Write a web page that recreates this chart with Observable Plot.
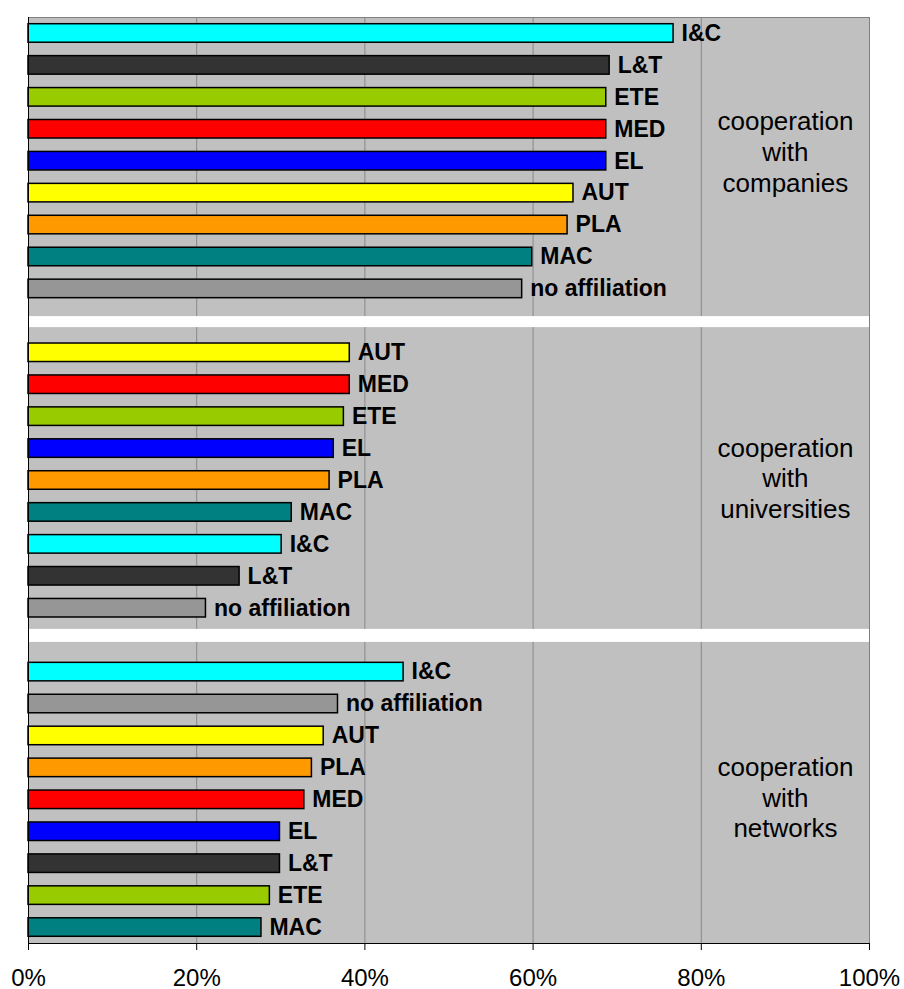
<!DOCTYPE html>
<html>
<head>
<meta charset="utf-8">
<script src="https://cdn.jsdelivr.net/npm/d3@7"></script>
<script src="https://cdn.jsdelivr.net/npm/@observablehq/plot@0.6"></script>
<style>
  html, body { margin: 0; padding: 0; background: #ffffff; }
  #chart { width: 904px; height: 989px; }
</style>
</head>
<body>
<div id="chart"></div>
<script>
// Share of members cooperating with each partner type, by unit (percent)
const panelKeys = ["companies", "universities", "networks"];
const panelTitles = ["cooperation\nwith\ncompanies", "cooperation\nwith\nuniversities", "cooperation\nwith\nnetworks"];

const companiesUnits = ["I&C", "L&T", "ETE", "MED", "EL", "AUT", "PLA", "MAC", "no affiliation"];
const companiesValues = [76.7, 69.1, 68.7, 68.7, 68.7, 64.8, 64.1, 59.9, 58.7];

const universitiesUnits = ["AUT", "MED", "ETE", "EL", "PLA", "MAC", "I&C", "L&T", "no affiliation"];
const universitiesValues = [38.2, 38.2, 37.5, 36.3, 35.8, 31.3, 30.1, 25.1, 21.1];

const networksUnits = ["I&C", "no affiliation", "AUT", "PLA", "MED", "EL", "L&T", "ETE", "MAC"];
const networksValues = [44.6, 36.8, 35.1, 33.7, 32.8, 29.9, 29.9, 28.7, 27.7];

const unitNames = ["I&C", "L&T", "ETE", "MED", "EL", "AUT", "PLA", "MAC", "no affiliation"];
const unitColors = ["#00ffff", "#333333", "#99cc00", "#ff0000", "#0000ff", "#ffff00", "#ff9900", "#008080", "#969696"];

const xTicks = [0, 20, 40, 60, 80, 100];

// One row per bar, with a spacer row between the three panels
const panelUnits = [companiesUnits, universitiesUnits, networksUnits];
const panelValues = [companiesValues, universitiesValues, networksValues];
const rows = [];
const rowOrder = [];
panelKeys.forEach((p, i) => {
  panelUnits[i].forEach((u, j) => {
    const key = p + "|" + u;
    rows.push({key, unit: u, value: panelValues[i][j]});
    rowOrder.push(key);
  });
  if (i < panelKeys.length - 1) rowOrder.push("gap" + i);
});

// Panel titles sit beside the middle row of each panel
const titles = panelKeys.map((p, i) => ({key: p + "|" + panelUnits[i][4], title: panelTitles[i]}));
const titleX = (xTicks[4] + xTicks[5]) / 2;
const titleStyle = {x: titleX, y: "key", text: "title", fontSize: 26, lineHeight: 1.18, fill: "#000000"};

const chart = Plot.plot({
  width: 904,
  height: 989,
  marginLeft: 28,
  marginRight: 35,
  marginTop: 17,
  marginBottom: 46,
  style: {fontFamily: "'Liberation Sans', Arial, sans-serif", background: "#ffffff", color: "#000000"},
  x: {domain: [xTicks[0], xTicks[xTicks.length - 1]], axis: null, label: null},
  y: {domain: rowOrder, paddingInner: 0.42, paddingOuter: 0.21, round: false, axis: null},
  color: {domain: unitNames, range: unitColors},
  marks: [
    Plot.frame({fill: "#c0c0c0", stroke: "#808080"}),
    Plot.ruleX(xTicks.slice(1, -1), {stroke: "#888888", strokeWidth: 1}),
    Plot.barX(["gap0"], {y: d => d, x1: xTicks[0], x2: xTicks[xTicks.length - 1], fill: "#ffffff", insetTop: 5, insetBottom: 2.5}),
    Plot.barX(["gap1"], {y: d => d, x1: xTicks[0], x2: xTicks[xTicks.length - 1], fill: "#ffffff", insetTop: -1.5, insetBottom: 7}),
    Plot.frame({stroke: "#808080"}),
    Plot.barX(rows, {x: "value", y: "key", fill: "unit", stroke: "#000000", strokeWidth: 1.5}),
    Plot.text(rows, {x: "value", y: "key", text: "unit", textAnchor: "start", dx: 8, fontSize: 23, fontWeight: "bold", fill: "#000000"}),
    Plot.text(titles.slice(0, 1), {...titleStyle, dy: -10}),
    Plot.text(titles.slice(1), {...titleStyle, dy: -3}),
    Plot.frame({anchor: "left", stroke: "#000000"}),
    Plot.frame({anchor: "bottom", stroke: "#000000"}),
    Plot.axisX({ticks: xTicks, tickFormat: d => d + "%", tickSize: 7, tickPadding: 18, fontSize: 24, label: null, stroke: "#000000", fill: "#000000"})
  ]
});

document.getElementById("chart").appendChild(chart);
</script>
</body>
</html>
